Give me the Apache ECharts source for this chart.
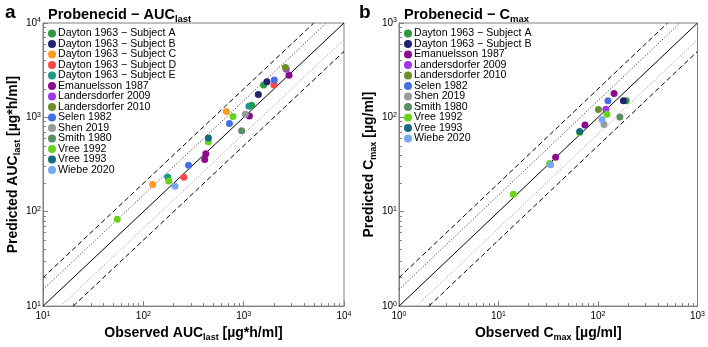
<!DOCTYPE html>
<html>
<head>
<meta charset="utf-8">
<script src="https://cdn.jsdelivr.net/npm/echarts@6/dist/echarts.min.js"></script>
<style>
  html, body { margin: 0; padding: 0; background: #fff; }
  #chart { width: 708px; height: 347px; }
</style>
</head>
<body>
<div id="chart"></div>
<script>
// study names and marker colours
const studies = [
  "Dayton 1963 − Subject A", "Dayton 1963 − Subject B", "Dayton 1963 − Subject C",
  "Dayton 1963 − Subject D", "Dayton 1963 − Subject E", "Emanuelsson 1987",
  "Landersdorfer 2009", "Landersdorfer 2010", "Selen 1982", "Shen 2019",
  "Smith 1980", "Vree 1992", "Vree 1993", "Wiebe 2020"
];
const studyColors = [
  "#2b9b3b", "#22236e", "#ff9b1e", "#ff4545", "#1b9a8b", "#8c0a8c",
  "#a035ec", "#6e8e25", "#4370e2", "#9a9a9a", "#5a8f63", "#69d31b", "#126c80", "#78a8ee"
];

// panel a: AUClast (observed vs predicted, µg*h/ml)
const aucStudy = [
  "Dayton 1963 − Subject A", "Dayton 1963 − Subject A",
  "Dayton 1963 − Subject B", "Dayton 1963 − Subject B",
  "Dayton 1963 − Subject C", "Dayton 1963 − Subject C",
  "Dayton 1963 − Subject D", "Dayton 1963 − Subject D",
  "Dayton 1963 − Subject E", "Dayton 1963 − Subject E",
  "Emanuelsson 1987", "Emanuelsson 1987", "Emanuelsson 1987", "Emanuelsson 1987",
  "Landersdorfer 2009", "Landersdorfer 2010",
  "Selen 1982", "Selen 1982", "Selen 1982",
  "Shen 2019", "Smith 1980",
  "Vree 1992", "Vree 1992", "Vree 1992", "Vree 1992",
  "Vree 1993", "Wiebe 2020"
];
const aucObs = [1581, 1202, 1706, 1400, 673, 124, 2002, 253, 1129, 175,
  2830, 1140, 419, 409, 2660, 2600, 2020, 721, 282, 1040, 955,
  783, 445, 179, 55, 445, 207];
const aucPred = [2207, 1343, 2390, 1749, 1155, 194, 2207, 232, 1312, 233,
  2800, 1032, 412, 357, 3240, 3375, 2490, 859, 311, 1082, 723,
  1024, 553, 212, 83, 604, 186];

// panel b: Cmax (observed vs predicted, µg/ml)
const cmaxStudy = [
  "Dayton 1963 − Subject A", "Dayton 1963 − Subject B",
  "Emanuelsson 1987", "Emanuelsson 1987", "Emanuelsson 1987",
  "Landersdorfer 2009", "Landersdorfer 2010", "Selen 1982", "Shen 2019", "Smith 1980",
  "Vree 1992", "Vree 1992", "Vree 1992", "Vree 1992",
  "Vree 1993", "Wiebe 2020", "Wiebe 2020"
];
const cmaxObs = [192, 180, 145, 74, 37.5, 120, 101, 126, 115, 166,
  123, 65.5, 32.7, 14.1, 65.5, 110, 33.5];
const cmaxPred = [150, 150, 179, 83, 37.7, 122, 121, 150, 84, 101,
  108, 69, 32.4, 15.3, 71, 94.6, 31.4];

// axis ranges and fold lines
const aucRange = [10, 10000];
const cmaxRange = [1, 1000];
const foldDashed = 2;
const foldDotted = 1.5;

const FONT = "'Liberation Sans', Arial, sans-serif";

function minorTicks(range) {
  const out = [];
  for (let d = range[0]; d < range[1]; d *= 10) {
    for (let k = 2; k <= 9; k++) out.push(Math.log10(d * k));
  }
  return out;
}

function supLabel(v) {
  return "10{sup|" + Math.round(Math.log10(v)) + "}";
}

const labelRich = {
  sup: { fontSize: 7, verticalAlign: "top", lineHeight: 12, fontFamily: FONT, color: "#000" }
};

function foldLine(range, f, upper) {
  const lo = range[0], hi = range[1];
  return upper ? [[lo, lo * f], [hi / f, hi]] : [[lo * f, lo], [hi, hi / f]];
}

function refSeries(range, gi) {
  const mk = (data, type, color) => ({
    type: "line", xAxisIndex: gi * 2, yAxisIndex: gi * 2, data: data,
    showSymbol: false, silent: true, z: 1,
    lineStyle: { color: color, width: 1, type: type }
  });
  return [
    mk([[range[0], range[0]], [range[1], range[1]]], "solid", "#000"),
    mk(foldLine(range, foldDashed, true), [5, 3], "#000"),
    mk(foldLine(range, foldDashed, false), [5, 3], "#000"),
    mk(foldLine(range, foldDotted, true), [1, 2], "#222"),
    mk(foldLine(range, foldDotted, false), [1, 2], "#888")
  ];
}

function scatterSeries(names, obs, pred, gi) {
  const out = [];
  studies.forEach((s, i) => {
    const pts = [];
    names.forEach((n, j) => { if (n === s) pts.push([obs[j], pred[j]]); });
    if (!pts.length) return;
    out.push({
      name: s, type: "scatter", xAxisIndex: gi * 2, yAxisIndex: gi * 2,
      data: pts, symbolSize: 7, z: 3,
      itemStyle: { color: studyColors[i], opacity: 1 }
    });
  });
  return out;
}

function mainAxis(range, gi, isY, nameRich) {
  return {
    type: "log", logBase: 10, gridIndex: gi, min: range[0], max: range[1],
    position: isY ? "left" : "bottom",
    name: nameRich, nameLocation: "middle", nameGap: isY ? 21 : 14,
    nameTextStyle: {
      fontFamily: FONT, fontSize: 14, fontWeight: "bold", color: "#000",
      rich: {
        sub: { fontSize: 9, fontWeight: "bold", verticalAlign: "bottom", lineHeight: 18, fontFamily: FONT, color: "#000" }
      }
    },
    axisLine: { show: true, lineStyle: { color: "#808080", width: 1 } },
    axisTick: { show: true, inside: true, length: 5, lineStyle: { color: "#808080" } },
    minorTick: { show: false },
    splitLine: { show: false },
    axisLabel: {
      fontFamily: FONT, fontSize: 10, color: "#000", margin: isY ? 2 : 4,
      formatter: supLabel, rich: labelRich,
      showMinLabel: true, showMaxLabel: true
    }
  };
}

// overlay axis (log10 space) that only draws the minor ticks
function tickAxis(range, gi, isY) {
  const ticks = minorTicks(range);
  return {
    type: "value", gridIndex: gi, min: Math.log10(range[0]), max: Math.log10(range[1]),
    position: isY ? "left" : "bottom", offset: 0,
    axisLine: { show: true, onZero: false, lineStyle: { color: "#808080", width: 1 } },
    axisLabel: { show: false, customValues: ticks },
    splitLine: { show: false },
    axisTick: {
      show: true, inside: true, length: 3, customValues: ticks,
      lineStyle: { color: "#808080", width: 1 }
    }
  };
}

function legend(names, left) {
  return {
    orient: "vertical", left: left, top: 23, data: names,
    icon: "circle", itemWidth: 8, itemHeight: 8, itemGap: -0.5,
    selectedMode: false,
    textStyle: { fontFamily: FONT, fontSize: 10.6, color: "#000", lineHeight: 10.6, padding: [0, 0, 0, -3] }
  };
}

const leftNames = studies.filter(s => aucStudy.includes(s));
const rightNames = studies.filter(s => cmaxStudy.includes(s));

const titleRich = {
  sub: { fontSize: 9.5, fontWeight: "bold", verticalAlign: "bottom", lineHeight: 19, fontFamily: FONT, color: "#000" },
  m: { fontSize: 14.5, fontWeight: "bold", lineHeight: 19, fontFamily: FONT, color: "#000" }
};

const option = {
  animation: false,
  backgroundColor: "#fff",
  title: [
    { text: "a", left: 0, top: -2, textStyle: { fontFamily: FONT, fontSize: 19, fontWeight: "bold", color: "#000" } },
    { text: "{m|Probenecid − AUC}{sub|last}", left: 43, top: 0, textStyle: { rich: titleRich } },
    { text: "b", left: 354, top: -2, textStyle: { fontFamily: FONT, fontSize: 19, fontWeight: "bold", color: "#000" } },
    { text: "{m|Probenecid − C}{sub|max}", left: 399, top: 0, textStyle: { rich: titleRich } }
  ],
  grid: [
    { left: 43, top: 23, width: 301, height: 288, show: true, borderColor: "#808080", borderWidth: 1 },
    { left: 399, top: 23, width: 301, height: 288, show: true, borderColor: "#808080", borderWidth: 1 }
  ],
  legend: [legend(leftNames, 43), legend(rightNames, 399)],
  xAxis: [
    mainAxis(aucRange, 0, false, "Observed AUC{sub|last} [µg*h/ml]"),
    tickAxis(aucRange, 0, false),
    mainAxis(cmaxRange, 1, false, "Observed C{sub|max} [µg/ml]"),
    tickAxis(cmaxRange, 1, false)
  ],
  yAxis: [
    mainAxis(aucRange, 0, true, "Predicted AUC{sub|last} [µg*h/ml]"),
    tickAxis(aucRange, 0, true),
    mainAxis(cmaxRange, 1, true, "Predicted C{sub|max} [µg/ml]"),
    tickAxis(cmaxRange, 1, true)
  ],
  series: [].concat(
    refSeries(aucRange, 0),
    refSeries(cmaxRange, 1),
    scatterSeries(aucStudy, aucObs, aucPred, 0),
    scatterSeries(cmaxStudy, cmaxObs, cmaxPred, 1)
  )
};

const chart = echarts.init(document.getElementById("chart"), null, { renderer: "canvas" });
chart.setOption(option);
</script>
</body>
</html>
